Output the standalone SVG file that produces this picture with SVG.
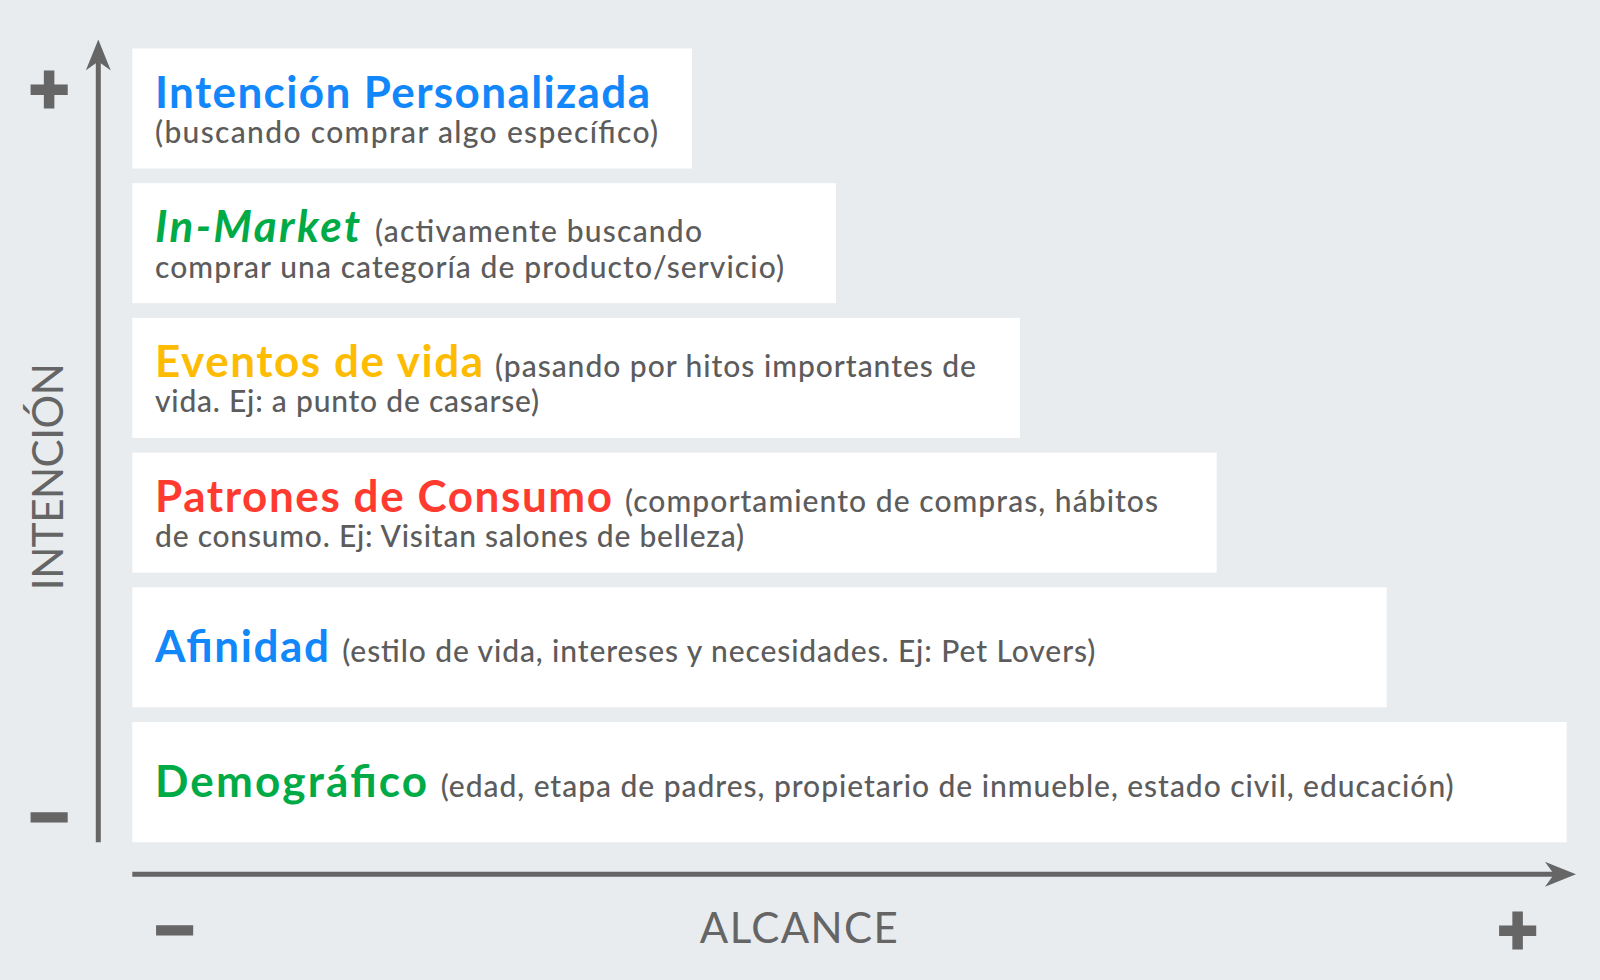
<svg xmlns="http://www.w3.org/2000/svg" width="1600" height="980" viewBox="0 0 1600 980">
  <style>
    .bg { fill: #e8ecef; }
    .box { fill: #ffffff; }
    .t { font-family: Lato, "Open Sans", "Liberation Sans", sans-serif; font-size: 44px; font-weight: 700; }
    .s { font-family: Lato, "Open Sans", "Liberation Sans", sans-serif; font-size: 30px; font-weight: 500; fill: #5c5c5c; }
    .ax { font-family: Lato, "Open Sans", "Liberation Sans", sans-serif; font-size: 42px; font-weight: 400; fill: #656565; text-anchor: middle; }
    .sign { font-family: "Liberation Sans", Arial, sans-serif; font-size: 68px; font-weight: 700; fill: #666666; stroke: #666666; stroke-width: 3; text-anchor: middle; }
    .blue { fill: #1187fa; }
    .green { fill: #00ab47; }
    .yellow { fill: #fdbc02; }
    .red { fill: #ff3b30; }
    .axis { stroke: #666666; stroke-width: 5; fill: none; stroke-linecap: butt; }
  </style>
  <defs>
    <marker id="arr" markerUnits="userSpaceOnUse" viewBox="0 0 31 25" markerWidth="31" markerHeight="25" refX="9" refY="12.5" orient="auto">
      <path d="M0,0 L31,12.5 L0,25 L9,12.5 Z" fill="#666666"/>
    </marker>
  </defs>

  <rect class="bg" x="0" y="0" width="1600" height="980"/>

  <g id="connectors">
    <path id="axis-y" class="axis" d="M98.3,842.3 L98.3,61.5" marker-end="url(#arr)"/>
    <path id="axis-x" class="axis" d="M132.3,874.3 L1554,874.3" marker-end="url(#arr)"/>
  </g>

  <g id="node-intencion-personalizada">
    <rect class="box" x="132.3" y="48.5" width="559.7" height="120"/>
    <text class="t blue" x="155" y="108.3" textLength="495">Intención Personalizada</text>
    <text class="s" x="155" y="143.3" textLength="503">(buscando comprar algo específico)</text>
  </g>

  <g id="node-in-market">
    <rect class="box" x="132.3" y="183.2" width="703.7" height="120"/>
    <text class="t green" x="155" y="241.7" font-style="italic" textLength="205">In-Market</text>
    <text class="s" x="375" y="241.7" textLength="327">(activamente buscando</text>
    <text class="s" x="155" y="278.3" textLength="629">comprar una categoría de producto/servicio)</text>
  </g>

  <g id="node-eventos-de-vida">
    <rect class="box" x="132.3" y="317.9" width="887.7" height="120"/>
    <text class="t yellow" x="155" y="376.9" textLength="328">Eventos de vida</text>
    <text class="s" x="495" y="376.9" textLength="481">(pasando por hitos importantes de</text>
    <text class="s" x="155" y="412" textLength="384">vida. Ej: a punto de casarse)</text>
  </g>

  <g id="node-patrones-de-consumo">
    <rect class="box" x="132.3" y="452.6" width="1084.4" height="120"/>
    <text class="t red" x="155" y="512" textLength="457">Patrones de Consumo</text>
    <text class="s" x="625" y="512" textLength="533">(comportamiento de compras, hábitos</text>
    <text class="s" x="155" y="547.3" textLength="589">de consumo. Ej: Visitan salones de belleza)</text>
  </g>

  <g id="node-afinidad">
    <rect class="box" x="132.3" y="587.3" width="1254.4" height="120"/>
    <text class="t blue" x="155" y="661.7" textLength="174">Afinidad</text>
    <text class="s" x="342.3" y="661.7" textLength="753">(estilo de vida, intereses y necesidades. Ej: Pet Lovers)</text>
  </g>

  <g id="node-demografico">
    <rect class="box" x="132.3" y="722" width="1434.4" height="120.3"/>
    <text class="t green" x="155" y="797" textLength="272">Demográfico</text>
    <text class="s" x="440.7" y="797" textLength="1013">(edad, etapa de padres, propietario de inmueble, estado civil, educación)</text>
  </g>

  <g id="axis-labels">
    <text class="ax" transform="translate(62.7,476.7) rotate(-90)" x="0" y="0" textLength="227">INTENCIÓN</text>
    <text class="ax" x="798.8" y="942.7" textLength="198">ALCANCE</text>
    <text class="sign" x="49.2" y="111.9">+</text>
    <text class="sign" x="49.2" y="840.2">−</text>
    <text class="sign" x="174.7" y="953.4">−</text>
    <text class="sign" x="1517.5" y="953.1">+</text>
  </g>
</svg>
